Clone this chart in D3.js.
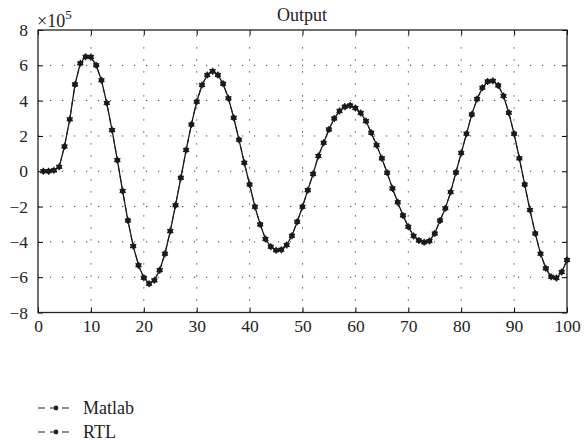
<!DOCTYPE html>
<html>
<head>
<meta charset="utf-8">
<script src="https://cdn.jsdelivr.net/npm/d3@7"></script>
<style>
  body { margin: 0; background: #fff; }
  text { font-family: "Liberation Serif", "DejaVu Serif", serif; fill: #222; }
</style>
</head>
<body>
<div id="chart"></div>
<script>
// sample index 1..100
var samples = d3.range(1, 101);

// output values, in units of 1e5
var matlab = [
  0, 0, 0.05, 0.25, 1.4, 2.94, 4.92, 6.11, 6.49, 6.47,
  6.0, 5.15, 3.86, 2.33, 0.63, -1.12, -2.79, -4.24, -5.32, -6.03,
  -6.37, -6.18, -5.6, -4.67, -3.39, -1.92, -0.37, 1.2, 2.65, 3.94,
  4.88, 5.45, 5.67, 5.45, 4.96, 4.13, 3.03, 1.78, 0.48, -0.75,
  -2.01, -3.01, -3.84, -4.28, -4.48, -4.45, -4.18, -3.65, -2.86, -2.01,
  -1.07, -0.15, 0.86, 1.61, 2.37, 2.99, 3.41, 3.66, 3.72, 3.58,
  3.30, 2.84, 2.18, 1.48, 0.73, -0.08, -0.97, -1.75, -2.5, -3.14,
  -3.67, -3.92, -4.02, -3.95, -3.52, -2.79, -2.1, -1.18, -0.07, 1.03,
  2.12, 3.22, 4.09, 4.73, 5.08, 5.12, 4.86, 4.26, 3.31, 2.12,
  0.73, -0.75, -2.2, -3.52, -4.67, -5.5, -5.98, -6.05, -5.71, -5.03
];
var rtl = [
  0, 0, 0.05, 0.25, 1.4, 2.94, 4.92, 6.11, 6.49, 6.47,
  6.0, 5.15, 3.86, 2.33, 0.63, -1.12, -2.79, -4.24, -5.32, -6.03,
  -6.37, -6.18, -5.6, -4.67, -3.39, -1.92, -0.37, 1.2, 2.65, 3.94,
  4.88, 5.45, 5.67, 5.45, 4.96, 4.13, 3.03, 1.78, 0.48, -0.75,
  -2.01, -3.01, -3.84, -4.28, -4.48, -4.45, -4.18, -3.65, -2.86, -2.01,
  -1.07, -0.15, 0.86, 1.61, 2.37, 2.99, 3.41, 3.66, 3.72, 3.58,
  3.30, 2.84, 2.18, 1.48, 0.73, -0.08, -0.97, -1.75, -2.5, -3.14,
  -3.67, -3.92, -4.02, -3.95, -3.52, -2.79, -2.1, -1.18, -0.07, 1.03,
  2.12, 3.22, 4.09, 4.73, 5.08, 5.12, 4.86, 4.26, 3.31, 2.12,
  0.73, -0.75, -2.2, -3.52, -4.67, -5.5, -5.98, -6.05, -5.71, -5.03
];

var xTicks = [0, 10, 20, 30, 40, 50, 60, 70, 80, 90, 100];
var yTicks = [-8, -6, -4, -2, 0, 2, 4, 6, 8];
var seriesNames = ["Matlab", "RTL"];

function draw() {
    var w = 584, h = 444;
    var pl = 38, pr = 567, pt = 30, pb = 312.5; // plot box edges

    var svg = d3.select("#chart").append("svg")
                .attr("width", w)
                .attr("height", h);

    var x = d3.scaleLinear().domain([0, 100]).range([pl, pr]);
    var y = d3.scaleLinear().domain([-8, 8]).range([pb, pt]);

    // dotted grid
    var grid = svg.append("g")
                  .attr("stroke", "#333")
                  .attr("stroke-width", 1)
                  .attr("stroke-dasharray", "1.2,10.8");
    grid.selectAll(".gx").data(xTicks.slice(1, -1)).enter().append("line")
        .attr("x1", d => x(d)).attr("x2", d => x(d))
        .attr("y1", pb).attr("y2", pt);
    grid.selectAll(".gy").data(yTicks.slice(1, -1)).enter().append("line")
        .attr("y1", d => y(d)).attr("y2", d => y(d))
        .attr("x1", pl).attr("x2", pr);

    // axes with inward ticks
    var tickLen = 5;
    var fontIt = g => g.selectAll("text").attr("font-size", 17.5)
                       .attr("font-family", "Liberation Serif").attr("fill", "#222");
    svg.append("g").attr("transform", "translate(0," + pb + ")")
       .call(d3.axisBottom(x).tickValues(xTicks).tickSizeInner(-tickLen).tickSizeOuter(0).tickPadding(7))
       .call(g => g.select(".domain").remove())
       .call(fontIt);
    svg.append("g").attr("transform", "translate(0," + pt + ")")
       .call(d3.axisTop(x).tickValues(xTicks).tickSizeInner(-tickLen).tickSizeOuter(0).tickFormat(""))
       .call(g => g.select(".domain").remove());
    svg.append("g").attr("transform", "translate(" + pl + ",0)")
       .call(d3.axisLeft(y).tickValues(yTicks).tickSizeInner(-tickLen).tickSizeOuter(0).tickPadding(10)
               .tickFormat(d => d < 0 ? "\u2212" + Math.abs(d) : d))
       .call(g => g.select(".domain").remove())
       .call(fontIt);
    svg.append("g").attr("transform", "translate(" + pr + ",0)")
       .call(d3.axisRight(y).tickValues(yTicks).tickSizeInner(-tickLen).tickSizeOuter(0).tickFormat(""))
       .call(g => g.select(".domain").remove());

    svg.append("rect")
       .attr("x", pl).attr("y", pt)
       .attr("width", pr - pl).attr("height", pb - pt)
       .attr("fill", "none").attr("stroke", "#222").attr("stroke-width", 1.3);

    // exponent label and title
    var ex = svg.append("text").attr("x", pl - 1).attr("y", 26.5).attr("font-size", 18);
    ex.append("tspan").text("\u00d710");
    ex.append("tspan").attr("dy", -8).attr("font-size", 13).text("5");

    svg.append("text").attr("x", 302).attr("y", 21)
       .attr("text-anchor", "middle").attr("font-size", 18).text("Output");

    // series
    var line = d3.line().x((d, i) => x(samples[i])).y(d => y(d));

    svg.append("path").datum(matlab)
       .attr("d", line).attr("fill", "none")
       .attr("stroke", "#1a1a1a").attr("stroke-width", 1.3);

    var star = d3.symbol().type(d3.symbolAsterisk).size(34);
    svg.append("g").selectAll("path").data(matlab).enter().append("path")
       .attr("transform", (d, i) => "translate(" + x(samples[i]) + "," + y(d) + ")")
       .attr("d", star).attr("fill", "none").attr("stroke", "#1a1a1a").attr("stroke-width", 1.2);

    svg.append("path").datum(rtl)
       .attr("d", line).attr("fill", "none")
       .attr("stroke", "#1a1a1a").attr("stroke-width", 1)
       .attr("stroke-dasharray", "6,4");

    svg.append("g").selectAll("circle").data(rtl).enter().append("circle")
       .attr("cx", (d, i) => x(samples[i])).attr("cy", d => y(d))
       .attr("r", 2.7).attr("fill", "#1a1a1a");

    // legend
    var leg = svg.append("g").selectAll("g").data(seriesNames).enter().append("g")
                 .attr("transform", (d, i) => "translate(38," + (408 + i * 24) + ")");
    leg.append("line").attr("x1", 0).attr("x2", 34).attr("y1", 0).attr("y2", 0)
       .attr("stroke", "#222").attr("stroke-width", 1.2).attr("stroke-dasharray", "7,5");
    leg.append("circle").attr("cx", 18).attr("cy", 0).attr("r", 2.4).attr("fill", "#222");
    leg.append("text").attr("x", 45).attr("y", 6).attr("font-size", 18).text(d => d);
}

draw();
</script>
</body>
</html>
